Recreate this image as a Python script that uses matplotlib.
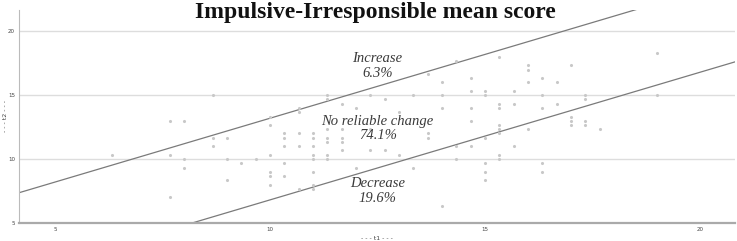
import numpy as np
import matplotlib
matplotlib.use("Agg")
import matplotlib.pyplot as plt

# Puntuaciones t1 / t2
t1 = [6.33, 7.67, 8.0, 7.67, 7.67, 8.67, 8.67, 9.0, 8.67, 8.0, 9.0, 8.0, 9.33, 9.0, 9.67,
      10.0, 10.0, 10.0, 10.0, 10.0, 10.0,
      10.33, 10.33, 10.33, 10.33, 10.33,
      10.67, 10.67, 10.67, 10.67, 10.67,
      11.0, 11.0, 11.0, 11.0, 11.0, 11.0, 11.0, 11.0,
      11.33, 11.33, 11.33, 11.33, 11.33, 11.33, 11.33,
      11.67, 11.67, 11.67, 11.67, 11.67,
      12.0, 12.0, 12.33, 12.33, 12.33, 12.67, 12.67, 13.0, 13.0, 13.33, 13.33,
      13.67, 13.67, 13.67, 14.0, 14.0, 14.0, 14.0, 14.33, 14.33, 14.33,
      14.67, 14.67, 14.67, 14.67, 14.67,
      15.0, 15.0, 15.0, 15.0, 15.0, 15.0,
      15.33, 15.33, 15.33, 15.33, 15.33, 15.33, 15.33, 15.33,
      15.67, 15.67, 15.67, 16.0, 16.0, 16.0, 16.0,
      16.33, 16.33, 16.33, 16.33, 16.33, 16.67, 16.67,
      17.0, 17.0, 17.0, 17.0, 17.33, 17.33, 17.33, 17.33, 17.67, 19.0, 19.0]
t2 = [10.33, 13.0, 13.0, 10.33, 7.0, 15.0, 11.67, 11.67, 11.0, 10.0, 10.0, 9.33, 9.67, 8.33, 10.0,
      13.33, 12.67, 10.33, 9.0, 8.67, 8.0,
      12.0, 11.67, 11.0, 9.67, 8.67,
      14.0, 13.67, 12.0, 11.0, 7.67,
      12.0, 11.67, 11.0, 10.33, 10.0, 9.0, 8.0, 7.67,
      15.0, 14.67, 12.33, 11.67, 11.33, 10.33, 10.0,
      14.33, 12.33, 11.67, 11.33, 10.67,
      14.0, 9.33, 15.0, 12.33, 10.67, 14.67, 10.67, 13.67, 10.33, 15.0, 9.33,
      16.67, 12.0, 11.67, 16.0, 15.0, 14.0, 6.33, 17.67, 11.0, 10.0,
      16.33, 15.33, 14.0, 13.0, 11.0,
      15.33, 15.0, 11.67, 9.67, 9.0, 8.33,
      18.0, 14.33, 14.0, 12.67, 12.33, 12.0, 10.33, 10.0,
      15.33, 14.33, 11.0, 17.33, 17.0, 16.0, 12.33,
      16.33, 15.0, 14.0, 9.67, 9.0, 16.0, 14.33,
      17.33, 13.33, 13.0, 12.67, 15.0, 14.67, 13.0, 12.67, 12.33, 18.33, 15.0]

rci = 3.2  # margen de cambio fiable
region_labels = ["Increase\n6.3%", "No reliable change\n74.1%", "Decrease\n19.6%"]
label_y = [17.3, 12.4, 7.5]
ticks = [5, 10, 15, 20]

fig = plt.figure(figsize=(7.37, 2.41), dpi=100)
ax = fig.add_axes([0.026, 0.0755, 0.971, 0.883])

ax.scatter(t1, t2, s=5, color="#c8c8c8", linewidths=0, zorder=3)

xs = np.array([4.0, 21.0])
ax.plot(xs, xs + rci, color="#7a7a7a", lw=0.9, zorder=2)
ax.plot(xs, xs - rci, color="#7a7a7a", lw=0.9, zorder=2)

for txt, yy in zip(region_labels, label_y):
    ax.text(12.5, yy, txt, ha="center", va="center", fontsize=10.5,
            family="Liberation Serif", style="italic", color="#3a3a3a",
            linespacing=1.15, zorder=4)

ax.set_xlim(4.16, 20.81)
ax.set_ylim(5, 21.68)
ax.set_xticks(ticks)
ax.set_yticks(ticks)
ax.tick_params(length=0, labelsize=4, colors="#444444", pad=3)
ax.grid(True, axis="y", color="#dddddd", lw=1)
ax.set_axisbelow(True)
for s in ["top", "right"]:
    ax.spines[s].set_visible(False)
ax.spines["left"].set_color("#bbbbbb")
ax.spines["left"].set_linewidth(0.8)
ax.spines["bottom"].set_color("#aaaaaa")
ax.spines["bottom"].set_linewidth(1.6)

ax.set_xlabel("- - - t1 - - -", fontsize=4.5, color="#444444")
ax.set_ylabel("- - - t2 - - -", fontsize=4.5, color="#444444")
ax.xaxis.set_label_coords(0.5, -0.062)
ax.yaxis.set_label_coords(-0.016, 0.5)

fig.text(0.51, 0.95, "Impulsive-Irresponsible mean score", ha="center", va="center",
         fontsize=17, fontweight="bold", family="Liberation Serif", color="#111111")

fig.savefig("out.png", dpi=100)
